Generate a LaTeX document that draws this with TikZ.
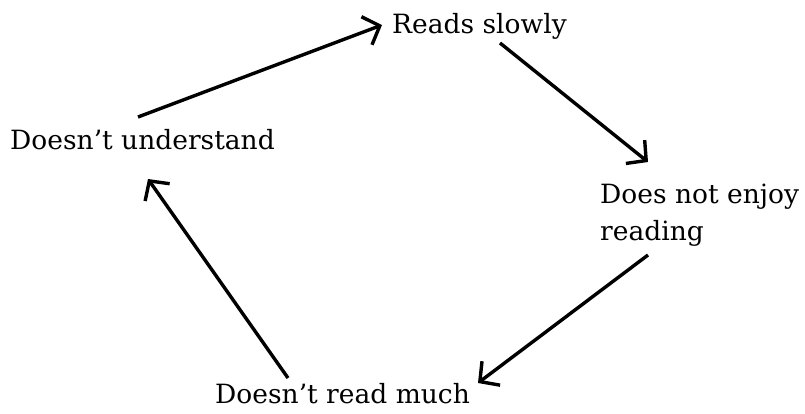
\documentclass[tikz,border=0pt]{standalone}
\usepackage{fontspec}
\setmainfont{DejaVu Serif}
\usepackage{tikz}
\usetikzlibrary{arrows.meta, positioning}
\tikzset{
>={Straight Barb[length=14pt,width=30pt,line width=3.4pt]},
phrase/.style={%
    inner sep=0pt,
    anchor=base west,
    align=left,
    font=\fontsize{26.5}{37}\selectfont
},
cycle/.style={->, line width=3.4pt, black},
}

\begin{document}
\begin{tikzpicture}[x=1pt,y=-1pt]
	\useasboundingbox (0,0) rectangle (805,413);
	\node[phrase] (slowly) at (392,33) {Reads slowly};
	\node[phrase] (enjoy) at (600,240) {Does not enjoy\\reading};
	\node[phrase] (much) at (215,403) {Doesn’t read much};
	\node[phrase] (understand) at (10,149) {Doesn’t understand};

	\draw[cycle] ([shift={(128,-32)}]understand.base west) -- ([shift={(-10,-8)}]slowly.base west);
	\draw[cycle] ([shift={(108,10)}]slowly.base west) -- ([shift={(48,-78)}]enjoy.base west);
	\draw[cycle] ([shift={(48,15)}]enjoy.base west) -- ([shift={(263,-20)}]much.base west);
	\draw[cycle] ([shift={(73,-25)}]much.base west) -- ([shift={(138,30)}]understand.base west);
\end{tikzpicture}
\end{document}
